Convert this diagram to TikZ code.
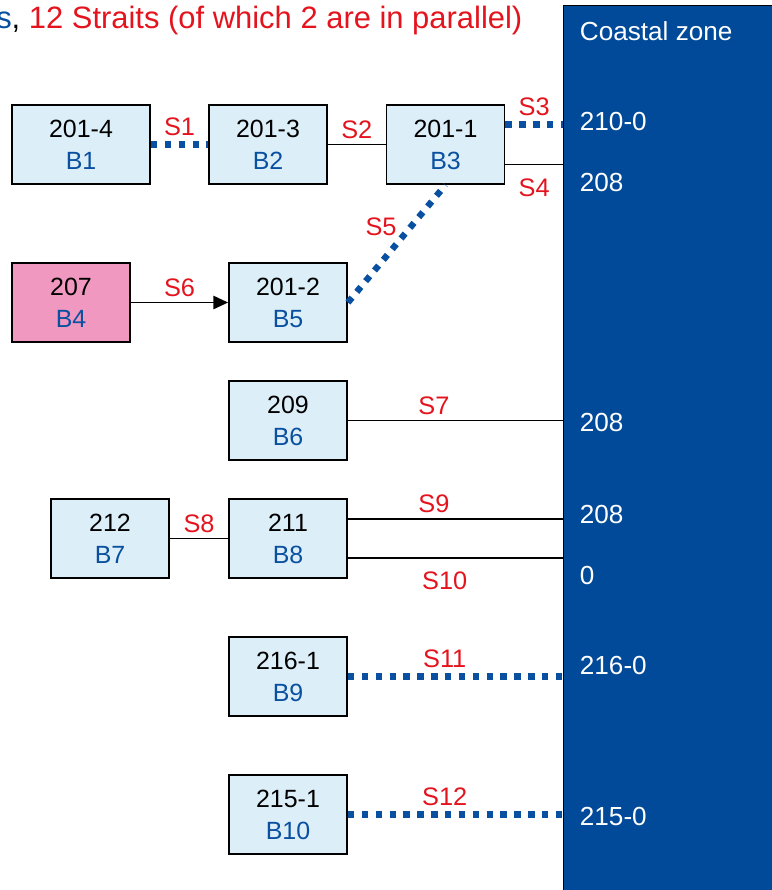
\documentclass[tikz,border=0pt]{standalone}
\usepackage{fontspec}
\setmainfont{Liberation Sans}
\usepackage{xcolor}
\usepackage{tikz}
\usetikzlibrary{arrows.meta}

\definecolor{basinfill}{RGB}{220,238,248}
\definecolor{sourcepink}{RGB}{240,152,192}
\definecolor{coastblue}{RGB}{0,74,153}
\definecolor{idblue}{RGB}{10,80,160}
\definecolor{straitred}{RGB}{228,20,30}

\begin{document}
\begin{tikzpicture}[x=0.75pt,y=-0.75pt,
  basin/.style={draw,line width=1.4pt,fill=basinfill,minimum width=88.5pt,minimum height=59.25pt,inner sep=0pt,align=center,font=\fontsize{18.7}{24}\selectfont},
  coast/.style={anchor=north west,draw=black,line width=1pt,fill=coastblue,minimum width=165pt,minimum height=675pt,inner sep=0pt},
  zone/.style={anchor=west,text=white,inner sep=2pt,font=\fontsize{19.6}{24}\selectfont},
  lbl/.style={text=straitred,inner sep=4pt,font=\fontsize{19}{24}\selectfont},
  strait/.style={draw=black,line width=1.1pt},
  dotstrait/.style={draw=idblue,line width=4.8pt,dash pattern=on 4.8pt off 5.6pt},
  flow/.style={strait,-{Triangle[length=11pt,width=10pt]}}]
  \useasboundingbox (0,0) rectangle (772,890);
  \node[anchor=base west,inner sep=0pt,font=\fontsize{23.2}{28}\selectfont] (head) at (-4,28) {\textcolor{idblue}{s}, \textcolor{straitred}{12 Straits (of which 2 are in parallel)}};
  % coastal zone
  \node[coast] (coast) at (563,5) {};
  \node[zone] (zt) at (577,31) {Coastal zone};
  \node[zone] (v3) at (577,121) {210-0};
  \node[zone] (v4) at (577,182) {208};
  \node[zone] (v7) at (577,422) {208};
  \node[zone] (v9) at (577,514) {208};
  \node[zone] (v10) at (577,575) {0};
  \node[zone] (v11) at (577,665) {216-0};
  \node[zone] (v12) at (577,816) {215-0};
  % basins
  \node[basin,minimum width=103.5pt] (b1) at (81,144.5) {201-4\\\textcolor{idblue}{B1}};
  \node[basin] (b2) at (268,144.5) {201-3\\\textcolor{idblue}{B2}};
  \node[basin] (b3) at (445.5,144.5) {201-1\\\textcolor{idblue}{B3}};
  \node[basin,fill=sourcepink] (b4) at (71,302.5) {207\\\textcolor{idblue}{B4}};
  \node[basin] (b5) at (288,302.5) {201-2\\\textcolor{idblue}{B5}};
  \node[basin] (b6) at (288,420.5) {209\\\textcolor{idblue}{B6}};
  \node[basin] (b7) at (110,538.5) {212\\\textcolor{idblue}{B7}};
  \node[basin] (b8) at (288,538.5) {211\\\textcolor{idblue}{B8}};
  \node[basin] (b9) at (288,676.5) {216-1\\\textcolor{idblue}{B9}};
  \node[basin] (b10) at (288,814.5) {215-1\\\textcolor{idblue}{B10}};
  % straits
  \coordinate (s3a) at ([yshift=15pt]b3.east);
  \coordinate (s4a) at ([yshift=-15pt]b3.east);
  \coordinate (s9a) at ([yshift=14.6pt]b8.east);
  \coordinate (s10a) at ([yshift=-14.6pt]b8.east);
  \draw[dotstrait] (b1) -- (b2) node[lbl,midway,above] (s1) {S1};
  \draw[strait] (b2) -- (b3) node[lbl,midway,above] (s2) {S2};
  \draw[dotstrait] (s3a) -- (s3a -| coast.west) node[lbl,midway,above] (s3) {S3};
  \draw[strait] (s4a) -- (s4a -| coast.west) node[lbl,midway,below=6pt] (s4) {S4};
  \draw[dotstrait] (b5.east) -- (b3.south) node[lbl,pos=0.64,left=4pt] (s5) {S5};
  \draw[flow] (b4) -- (b5) node[lbl,midway,above] (s6) {S6};
  \draw[strait] (b6) -- (b6 -| coast.west) node[lbl,pos=0.4,above] (s7) {S7};
  \draw[strait] (b7) -- (b8) node[lbl,midway,above] (s8) {S8};
  \draw[strait] (s9a) -- (s9a -| coast.west) node[lbl,pos=0.4,above] (s9) {S9};
  \draw[strait] (s10a) -- (s10a -| coast.west) node[lbl,pos=0.45,below=6pt] (s10) {S10};
  \draw[dotstrait] (b9) -- (b9 -| coast.west) node[lbl,pos=0.45,above] (s11) {S11};
  \draw[dotstrait] (b10) -- (b10 -| coast.west) node[lbl,pos=0.45,above] (s12) {S12};
\end{tikzpicture}
\end{document}
